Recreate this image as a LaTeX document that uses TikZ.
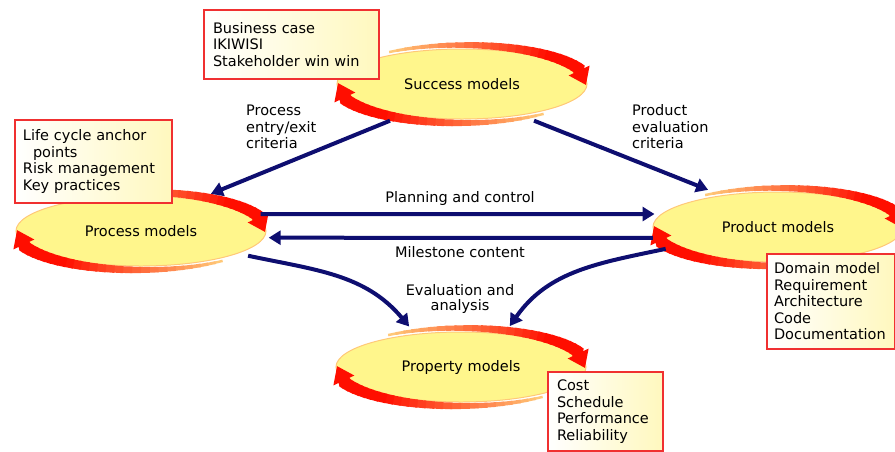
\documentclass[tikz,border=0pt]{standalone}
\usepackage{fontspec}
\setmainfont{DejaVu Sans}
\usetikzlibrary{arrows.meta,shapes.geometric,calc,backgrounds}
\definecolor{navyflow}{RGB}{14,14,112}
\definecolor{modelyellow}{RGB}{255,246,140}
\definecolor{ringred}{RGB}{255,14,0}
\definecolor{ringpale}{RGB}{255,200,120}
\definecolor{boxred}{RGB}{240,48,48}
\definecolor{boxyellow}{RGB}{255,248,190}
\begin{document}
\begin{tikzpicture}[x=1pt,y=-1pt]

    \tikzset{
      every node/.style={font=\fontsize{14.5}{16.5}\selectfont},
      model/.style={
        ellipse,
        minimum width=258pt,
        minimum height=88pt,
        inner sep=0pt,
      },
      infobox/.style={
        draw=boxred,
        line width=1.5pt,
        left color=white,
        right color=boxyellow,
        align=left,
        inner xsep=9pt,
        inner ysep=3pt,
      },
      flow/.style={
        draw=navyflow,
        line width=4pt,
        -{Triangle[width=14pt,length=12pt]},
      },
      ringtip/.style={
        draw=ringred,
        line width=12pt,
        -{Triangle[width=22pt,length=16pt]},
      },
      lbl/.style={inner sep=0pt, align=left},
    }
    \useasboundingbox (0,0) rectangle (895,451);
    \clip (0,0) rectangle (895,451);

	\node[model] (sm) at (462,84) {Success models};
	\node[model] (pm) at (141,231) {Process models};
	\node[model] (prm) at (778,227) {Product models};
	\node[model] (pym) at (461,367) {Property models};

	\begin{pgfonlayer}{background}
	\foreach \n in {sm,pm,prm,pym}{
	  \filldraw[fill=modelyellow, draw=ringpale, line width=1pt] (\n) ellipse [x radius=125, y radius=35];
	  % upper half of the cycle
	  \foreach \a [evaluate=\a as \b using int(\a-5), evaluate=\a as \w using 2.5+(125-\a)*0.095, evaluate=\a as \p using {int(min(100,(125-\a)/0.75))}] in {125,121,...,25}
	    \draw[line width=\w pt, draw=ringred!\p!ringpale] ($(\n)+({127*cos(\a)},{-39*sin(\a)})$) -- ($(\n)+({127*cos(\b)},{-39*sin(\b)})$);
	  \draw[ringtip] ($(\n)+({127*cos(24)},{-39*sin(24)})$) -- ($(\n)+(124,1)$);
	  % lower half of the cycle
	  \foreach \a [evaluate=\a as \b using int(\a-5), evaluate=\a as \w using 2.5+(-50-\a)*0.095, evaluate=\a as \p using {int(min(100,(-50-\a)/0.75))}] in {-50,-54,...,-154}
	    \draw[line width=\w pt, draw=ringred!\p!ringpale] ($(\n)+({127*cos(\a)},{-39*sin(\a)})$) -- ($(\n)+({127*cos(\b)},{-39*sin(\b)})$);
	  \draw[ringtip] ($(\n)+({127*cos(-156)},{-39*sin(-156)})$) -- ($(\n)+(-124,-1)$);
	}
	\end{pgfonlayer}

	\node[infobox, minimum width=175pt, minimum height=69pt, text width=157pt] (smbox) at (291.5,44.5) {Business case\\IKIWISI\\Stakeholder win win};
	\node[infobox, minimum width=157pt, minimum height=83pt, text width=141pt, inner xsep=8pt] (pmbox) at (93.5,161.5) {Life cycle anchor\\\hspace*{10pt}points\\Risk management\\Key practices};
	\node[infobox, minimum width=128pt, minimum height=95pt, text width=114pt, inner xsep=7pt] (prmbox) at (831,301.5) {Domain model\\Requirement\\Architecture\\Code\\Documentation};
	\node[infobox, minimum width=115pt, minimum height=79pt, text width=97pt] (pymbox) at (605.5,411.5) {Cost\\Schedule\\Performance\\Reliability};

	\draw[flow] (sm.207) -- (pm.28);
	\draw[flow] (sm.-27) -- (prm.152);
	\draw[flow] (pm.8) -- (prm.174);
	\draw[flow] (prm.185) -- (pm.-3);
	\draw[flow] (pm.-13) to[out=-12, in=130] (pym.142);
	\draw[flow] (prm.191) to[out=192, in=55] (pym.40);

	\node[lbl, anchor=west] (pecl) at (246,127) {Process\\entry/exit\\criteria};
	\node[lbl, anchor=west] (pecr) at (632,127) {Product\\evaluation\\criteria};
	\node[lbl] (pcl) at (460,198) {Planning and control};
	\node[lbl] (mcl) at (460,252) {Milestone content};
	\node[lbl, align=center, font=\fontsize{14.5}{15}\selectfont] (eal) at (460,299) {Evaluation and\\analysis};

\end{tikzpicture}
\end{document}
